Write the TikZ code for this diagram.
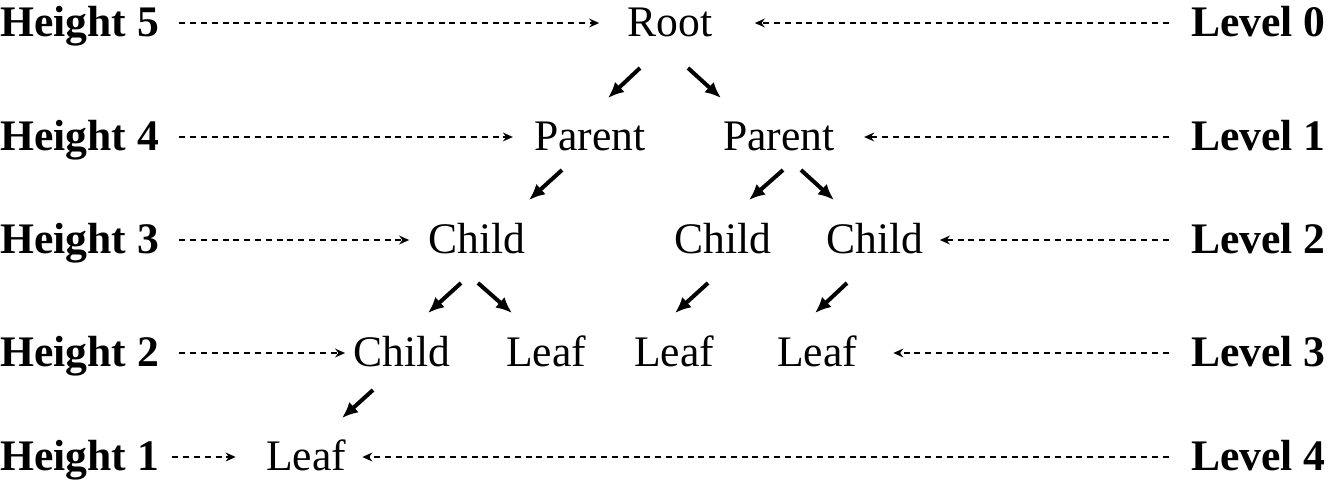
\documentclass[tikz,border=0pt]{standalone}
\usepackage{fontspec}
\setmainfont{Liberation Serif}
\usetikzlibrary{arrows.meta,calc}

\begin{document}
\begin{tikzpicture}[x=0.5pt,y=-0.5pt,
		word/.style={inner sep=0pt,anchor=base,text height=17.4pt,text depth=4.4pt,font=\fontsize{21.8pt}{26pt}\selectfont},
		tag/.style={word,font=\fontsize{21.8pt}{26pt}\selectfont\bfseries},
		dasharrow/.style={line width=0.9pt,dash pattern=on 3pt off 2.4pt,-{Stealth[length=5pt,width=4.4pt]}},
		edge/.style={line width=2pt,-{Latex[length=8pt,width=7pt]}}]
		\useasboundingbox (0,0) rectangle (1329,484);
		\node[tag,anchor=base west] (height5) at (0,36) {Height 5};
		\node[tag,anchor=base west] (height4) at (0,150) {Height 4};
		\node[tag,anchor=base west] (height3) at (0,253) {Height 3};
		\node[tag,anchor=base west] (height2) at (0,366) {Height 2};
		\node[tag,anchor=base west] (height1) at (0,470) {Height 1};
		\node[tag,anchor=base east] (level0) at (1326,36) {Level 0};
		\node[tag,anchor=base east] (level1) at (1326,150) {Level 1};
		\node[tag,anchor=base east] (level2) at (1326,253) {Level 2};
		\node[tag,anchor=base east] (level3) at (1326,366) {Level 3};
		\node[tag,anchor=base east] (level4) at (1326,470) {Level 4};
		\node[word] (root) at (670,36) {Root};
		\node[word] (parentl) at (590,150) {Parent};
		\node[word] (parentr) at (779,150) {Parent};
		\node[word] (childa) at (477,253) {Child};
		\node[word] (childb) at (723,253) {Child};
		\node[word] (childc) at (875,253) {Child};
		\node[word] (childd) at (402,366) {Child};
		\node[word] (leafa) at (546,366) {Leaf};
		\node[word] (leafb) at (674,366) {Leaf};
		\node[word] (leafc) at (817,366) {Leaf};
		\node[word] (leafd) at (306,470) {Leaf};
		\draw[dasharrow,shorten <=10pt,shorten >=14pt] (height5) -- (root);
		\draw[dasharrow,shorten <=11pt,shorten >=21pt] (level0) -- (root);
		\draw[dasharrow,shorten <=10pt,shorten >=10.5pt] (height4) -- (parentl);
		\draw[dasharrow,shorten <=11pt,shorten >=14.5pt] (level1) -- (parentr);
		\draw[dasharrow,shorten <=10pt,shorten >=9.5pt] (height3) -- (childa);
		\draw[dasharrow,shorten <=11pt,shorten >=8pt] (level2) -- (childc);
		\draw[dasharrow,shorten <=10pt,shorten >=4pt] (height2) -- (childd);
		\draw[dasharrow,shorten <=11pt,shorten >=18pt] (level3) -- (leafc);
		\draw[dasharrow,shorten <=6.5pt,shorten >=15pt] (height1) -- (leafd);
		\draw[dasharrow,shorten <=11pt,shorten >=8pt] (level4) -- (leafd);
		\draw[edge] ($(root)+(-30,45)$) -- ($(parentl)+(18,-39)$);
		\draw[edge] ($(root)+(18,45)$) -- ($(parentr)+(-58,-39)$);
		\draw[edge] ($(parentl)+(-28,33)$) -- ($(childa)+(52,-40)$);
		\draw[edge] ($(parentr)+(4,33)$) -- ($(childb)+(26,-40)$);
		\draw[edge] ($(parentr)+(22,33)$) -- ($(childc)+(-41,-40)$);
		\draw[edge] ($(childa)+(-16,43)$) -- ($(childd)+(26,-40)$);
		\draw[edge] ($(childa)+(1,43)$) -- ($(leafa)+(-34,-40)$);
		\draw[edge] ($(childb)+(-15,43)$) -- ($(leafb)+(1,-40)$);
		\draw[edge] ($(childc)+(-28,43)$) -- ($(leafc)+(-2,-40)$);
		\draw[edge] ($(childd)+(-29,37)$) -- ($(leafd)+(36,-39)$);
	\end{tikzpicture}
\end{document}
